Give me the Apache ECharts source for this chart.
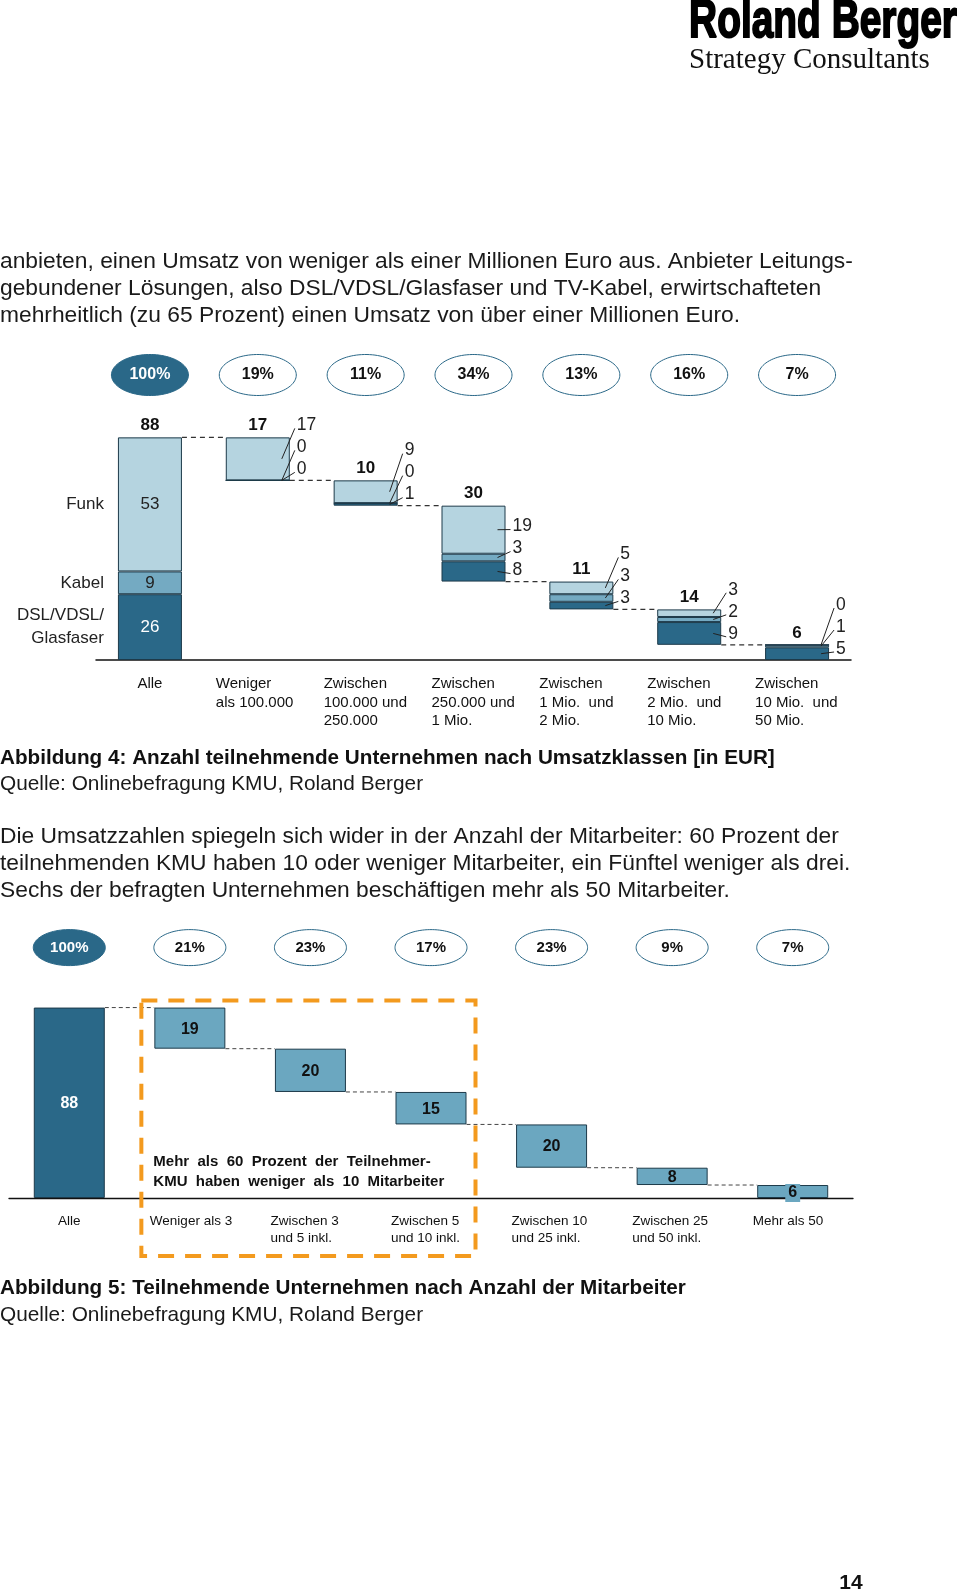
<!DOCTYPE html>
<html><head><meta charset="utf-8">
<script src="https://cdn.jsdelivr.net/npm/echarts/dist/echarts.min.js"></script>
<style>html,body{margin:0;padding:0;background:#fff}#c{width:960px;height:1593px}</style>
</head><body><div id="c"></div>
<script>
// ---- Chart 1 data (Abbildung 4) ----
const cats1 = ['Alle','Weniger\nals 100.000','Zwischen\n100.000 und\n250.000','Zwischen\n250.000 und\n1 Mio.','Zwischen\n1 Mio.  und\n2 Mio.','Zwischen\n2 Mio.  und\n10 Mio.','Zwischen\n10 Mio.  und\n50 Mio.'];
const funk1 = [53, 17, 9, 19, 5, 3, 0];
const kabel1 = [9, 0, 0, 3, 3, 2, 1];
const dsl1 = [26, 0, 1, 8, 3, 9, 5];
const shares1 = ['100%','19%','11%','34%','13%','16%','7%'];
const rowLabels1 = ['DSL/VDSL/\nGlasfaser','Kabel','Funk'];

// ---- Chart 2 data (Abbildung 5) ----
const cats2 = ['Alle','Weniger als 3','Zwischen 3\nund 5 inkl.','Zwischen 5\nund 10 inkl.','Zwischen 10\nund 25 inkl.','Zwischen 25\nund 50 inkl.','Mehr als 50'];
const values2 = [88, 19, 20, 15, 20, 8, 6];
const shares2 = ['100%','21%','23%','17%','23%','9%','7%'];
const note2 = 'Mehr  als  60  Prozent  der  Teilnehmer-\nKMU  haben  weniger  als  10  Mitarbeiter';

// ---- page text ----
const para1 = ['anbieten, einen Umsatz von weniger als einer Millionen Euro aus. Anbieter Leitungs-',
  'gebundener Lösungen, also DSL/VDSL/Glasfaser und TV-Kabel, erwirtschafteten',
  'mehrheitlich (zu 65 Prozent) einen Umsatz von über einer Millionen Euro.'];
const caption1 = 'Abbildung 4: Anzahl teilnehmende Unternehmen nach Umsatzklassen [in EUR]';
const source1 = 'Quelle: Onlinebefragung KMU, Roland Berger';
const para2 = ['Die Umsatzzahlen spiegeln sich wider in der Anzahl der Mitarbeiter: 60 Prozent der',
  'teilnehmenden KMU haben 10 oder weniger Mitarbeiter, ein Fünftel weniger als drei.',
  'Sechs der befragten Unternehmen beschäftigen mehr als 50 Mitarbeiter.'];
const caption2 = 'Abbildung 5: Teilnehmende Unternehmen nach Anzahl der Mitarbeiter';
const source2 = 'Quelle: Onlinebefragung KMU, Roland Berger';

const FF = "'Liberation Sans', Arial, Helvetica, sans-serif";
const DARK = '#2a6888', MED = '#74aac2', LIGHT = '#b5d4e0', MED2 = '#6ba7c0', EDGE = '#1d3a4a';
const font = (s, b) => (b ? 'bold ' : '') + s + 'px ' + FF;

const n1 = cats1.length;
const total1 = funk1.map((f, i) => f + kabel1[i] + dsl1[i]);
const base1 = []; let run1 = total1[0];
total1.forEach((t, i) => { if (i === 0) base1.push(0); else { run1 -= t; base1.push(run1); } });
const top1 = total1.map((t, i) => t + base1[i]);

const base2 = []; let run2 = values2[0];
values2.forEach((v, i) => { if (i === 0) base2.push(0); else { run2 -= v; base2.push(run2); } });
const top2 = values2.map((v, i) => v + base2[i]);

function ell(cx, cy, rx, ry) { const p = []; for (let k = 0; k < 90; k++) { const a = k / 90 * Math.PI * 2; p.push([cx + rx * Math.cos(a), cy + ry * Math.sin(a)]); } return p; }
function txt(x, y, text, f, fill, align, va, extra) {
  return { type: 'text', style: Object.assign({ x: x, y: y, text: String(text), font: f, fill: fill || '#111', textAlign: align || 'center', textVerticalAlign: va || 'middle' }, extra || {}) };
}

function render1(params, api) {
  const i = api.value(0);
  const p0 = api.coord([i, 0]); const cx = p0[0], y0 = p0[1];
  const Y = v => api.coord([i, v])[1];
  const hw = 32; const ch = [];
  const py = Y(100) - 32;
  ch.push({ type: 'polygon', shape: { points: ell(cx, py, 38.5, 20.5) }, style: { fill: i === 0 ? DARK : '#fff', stroke: DARK, lineWidth: 1 } });
  ch.push(txt(cx, py, shares1[i], font(16, true), i === 0 ? '#fff' : '#111'));
  ch.push(txt(cx, Y(top1[i]) - 12, total1[i], font(17, true), '#111'));
  const segs = [[dsl1[i], base1[i]], [kabel1[i], base1[i] + dsl1[i]], [funk1[i], base1[i] + dsl1[i] + kabel1[i]]];
  if (i === 0) {
    segs.forEach((s, k) => {
      const cy = Y(s[1] + s[0] / 2);
      ch.push(txt(cx, cy, s[0], font(17), k === 0 ? '#fff' : '#222'));
      ch.push(txt(cx - 46, cy, rowLabels1[k], font(17), '#222', 'right', 'middle', { lineHeight: 23 }));
    });
  } else {
    const bottom = Y(base1[i]); const lx = cx + hw + 7;
    segs.forEach((s, k) => {
      const ly = bottom - 11 - 22 * k;
      ch.push(txt(lx, ly, s[0], font(17.5), '#222', 'left'));
      ch.push({ type: 'line', shape: { x1: lx - 2, y1: ly + 3, x2: cx + hw - 8, y2: Y(s[1] + s[0] / 2) }, style: { stroke: '#222', lineWidth: 1 } });
    });
  }
  if (i < n1 - 1) {
    const nx = api.coord([i + 1, 0])[0]; const ly = Y(top1[i + 1]);
    ch.push({ type: 'line', shape: { x1: cx + hw, y1: ly, x2: nx - hw, y2: ly }, style: { stroke: '#333', lineWidth: 1.3, lineDash: [5, 4] } });
  }
  ch.push(txt(i === 0 ? cx : cx - 42, y0 + 15, cats1[i], font(15), '#111', i === 0 ? 'center' : 'left', 'top', { lineHeight: 18.5 }));
  return { type: 'group', children: ch };
}

function render2(params, api) {
  const i = api.value(0);
  const p0 = api.coord([i, 0]); const cx = p0[0], y0 = p0[1];
  const Y = v => api.coord([i, v])[1];
  const hw = 35.5; const ch = [];
  const py = Y(100) - 34;
  ch.push({ type: 'polygon', shape: { points: ell(cx, py, 36, 18) }, style: { fill: i === 0 ? DARK : '#fff', stroke: DARK, lineWidth: 1 } });
  ch.push(txt(cx, py, shares2[i], font(15, true), i === 0 ? '#fff' : '#111'));
  const last = i === values2.length - 1;
  const extra = last ? { backgroundColor: MED2, padding: [1, 3, 1, 3] } : {};
  ch.push(txt(cx, Y(base2[i] + values2[i] / 2) + (last ? 1.5 : 1), values2[i], font(16, true), i === 0 ? '#fff' : '#111', 'center', 'middle', extra));
  if (i < values2.length - 1) {
    const nx = api.coord([i + 1, 0])[0]; const ly = Y(top2[i + 1]);
    ch.push({ type: 'line', shape: { x1: cx + hw, y1: ly, x2: nx - hw, y2: ly }, style: { stroke: '#444', lineWidth: 1, lineDash: [4, 3] } });
  }
  ch.push(txt(i === 0 ? cx : cx - 40, y0 + 15, cats2[i], font(13.5), '#111', i === 0 ? 'center' : 'left', 'top', { lineHeight: 17 }));
  if (i === 1) {
    const rx = api.coord([3, 0])[0] + hw + 9; const lx = cx - hw - 13;
    const ty = Y(top2[0]) - 7, by = y0 + 58;
    ch.push({ type: 'rect', z2: 10, shape: { x: lx, y: ty, width: rx - lx, height: by - ty }, style: { fill: 'none', stroke: '#f39a1e', lineWidth: 4, lineDash: [16, 11] } });
    ch.push(txt(cx - hw - 1, y0 - 26, note2, font(15, true), '#111', 'left', 'middle', { lineHeight: 20 }));
  }
  return { type: 'group', children: ch };
}

const g = [];
g.push({ type: 'text', x: 957, y: 22, scaleX: 0.72, style: { text: 'Roland Berger', font: "bold 54px 'Liberation Sans', Arial", fill: '#000', stroke: '#000', lineWidth: 2, textAlign: 'right', textVerticalAlign: 'middle' } });
g.push({ type: 'text', x: 689, y: 60, style: { text: 'Strategy Consultants', font: "29px 'Liberation Serif', 'Times New Roman', serif", fill: '#111', textAlign: 'left', textVerticalAlign: 'middle' } });
para1.forEach((t, k) => g.push({ type: 'text', x: 0, y: 262 + 27 * k, style: { text: t, font: font(22.8), fill: '#1a1a1a', textAlign: 'left', textVerticalAlign: 'middle' } }));
g.push({ type: 'text', x: 0, y: 758, style: { text: caption1, font: font(20.7, true), fill: '#111', textAlign: 'left', textVerticalAlign: 'middle' } });
g.push({ type: 'text', x: 0, y: 784, style: { text: source1, font: font(20.8), fill: '#1a1a1a', textAlign: 'left', textVerticalAlign: 'middle' } });
para2.forEach((t, k) => g.push({ type: 'text', x: 0, y: 837 + 27 * k, style: { text: t, font: font(22.8), fill: '#1a1a1a', textAlign: 'left', textVerticalAlign: 'middle' } }));
g.push({ type: 'text', x: 0, y: 1288.5, style: { text: caption2, font: font(20.7, true), fill: '#111', textAlign: 'left', textVerticalAlign: 'middle' } });
g.push({ type: 'text', x: 0, y: 1315, style: { text: source2, font: font(20.8), fill: '#1a1a1a', textAlign: 'left', textVerticalAlign: 'middle' } });
g.push({ type: 'text', x: 851, y: 1583, style: { text: '14', font: font(21, true), fill: '#111', textAlign: 'center', textVerticalAlign: 'middle' } });

const barEdge = { borderColor: EDGE, borderWidth: 1 };
const option = {
  animation: false,
  backgroundColor: '#fff',
  grid: [
    { left: 96, width: 755, top: 407, height: 253 },
    { left: 9, width: 844, top: 981.6, height: 216.4 }
  ],
  xAxis: [
    { type: 'category', gridIndex: 0, data: cats1, axisLine: { lineStyle: { color: '#111', width: 1.5 } }, axisTick: { show: false }, axisLabel: { show: false } },
    { type: 'category', gridIndex: 1, data: cats2, axisLine: { lineStyle: { color: '#111', width: 1.3 } }, axisTick: { show: false }, axisLabel: { show: false } }
  ],
  yAxis: [
    { type: 'value', gridIndex: 0, min: 0, max: 100, show: false },
    { type: 'value', gridIndex: 1, min: 0, max: 100, show: false }
  ],
  graphic: g,
  series: [
    { type: 'bar', xAxisIndex: 0, yAxisIndex: 0, stack: 'a', barWidth: 64, data: base1, itemStyle: { color: 'rgba(0,0,0,0)' }, silent: true },
    { type: 'bar', xAxisIndex: 0, yAxisIndex: 0, stack: 'a', barWidth: 64, data: dsl1, itemStyle: Object.assign({ color: DARK }, barEdge) },
    { type: 'bar', xAxisIndex: 0, yAxisIndex: 0, stack: 'a', barWidth: 64, data: kabel1, itemStyle: Object.assign({ color: MED }, barEdge) },
    { type: 'bar', xAxisIndex: 0, yAxisIndex: 0, stack: 'a', barWidth: 64, data: funk1, itemStyle: Object.assign({ color: LIGHT }, barEdge) },
    { type: 'custom', xAxisIndex: 0, yAxisIndex: 0, data: cats1.map((c, i) => [i, 0]), renderItem: render1, z: 5, clip: false },
    { type: 'bar', xAxisIndex: 1, yAxisIndex: 1, stack: 'b', barWidth: 71, data: base2, itemStyle: { color: 'rgba(0,0,0,0)' }, silent: true },
    { type: 'bar', xAxisIndex: 1, yAxisIndex: 1, stack: 'b', barWidth: 71, data: values2.map((v, i) => ({ value: v, itemStyle: { color: i === 0 ? DARK : MED2 } })), itemStyle: barEdge },
    { type: 'custom', xAxisIndex: 1, yAxisIndex: 1, data: cats2.map((c, i) => [i, 0]), renderItem: render2, z: 5, clip: false }
  ]
};
const chart = echarts.init(document.getElementById('c'), null, { renderer: 'canvas' });
chart.setOption(option);
</script></body></html>
